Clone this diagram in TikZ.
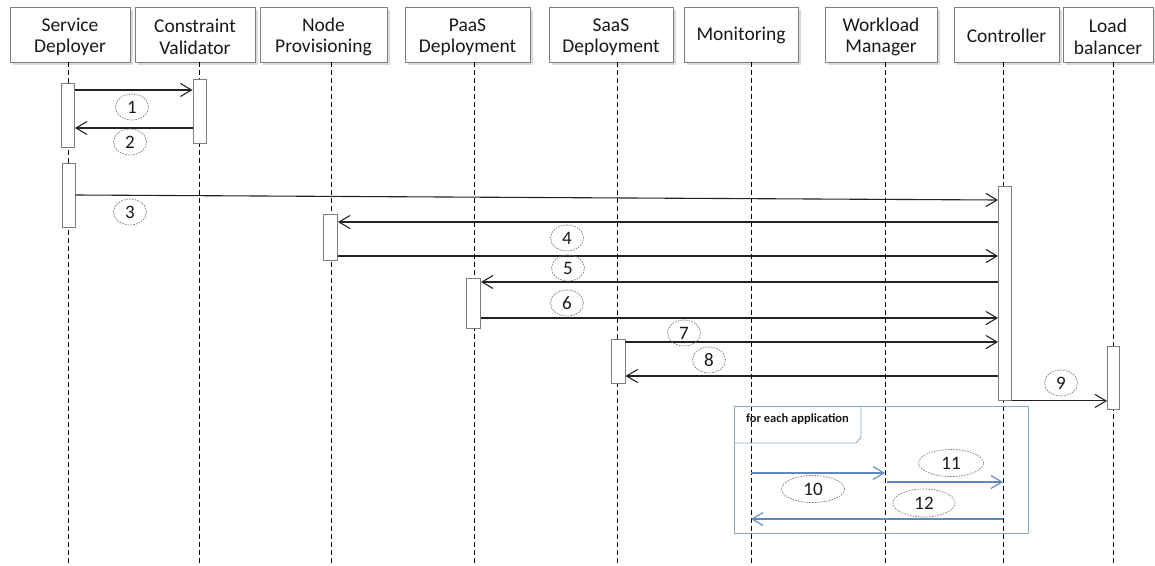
\documentclass[tikz,border=0pt]{standalone}
\usepackage{fontspec}
\setmainfont{Carlito}
\usetikzlibrary{arrows.meta,shapes.geometric,shadows}
\definecolor{boxline}{RGB}{125,125,125}
\definecolor{flow}{RGB}{35,35,35}
\definecolor{txt}{RGB}{25,25,25}
\definecolor{loopblue}{RGB}{95,135,192}
\definecolor{framecol}{RGB}{140,165,200}
\begin{document}
\begin{tikzpicture}[x=1pt,y=-1pt,
  hdr/.style={draw=boxline, line width=0.9pt, fill=white, minimum height=55pt,
    inner sep=0pt, drop shadow={shadow xshift=2.5pt,shadow yshift=-2.5pt,fill=black!28}},
  htxt/.style={text=txt, inner sep=0pt, align=center, font=\fontsize{19.5}{21.5}\selectfont},
  life/.style={draw=black, line width=1pt, dash pattern=on 5pt off 3pt},
  bar/.style={draw=boxline, fill=white, line width=0.9pt, minimum width=13pt, inner sep=0pt, anchor=north},
  msg/.style={draw=flow, line width=1.1pt, -{Straight Barb[length=11pt,width=13pt]}},
  bmsg/.style={draw=loopblue, line width=1.1pt, -{Straight Barb[length=11pt,width=13pt]}},
  num/.style={ellipse, draw=gray!90!black, dash pattern=on 1.6pt off 1.2pt, line width=0.65pt, text=txt,
    minimum width=33pt, minimum height=26pt, inner sep=0pt, font=\fontsize{19}{19}\selectfont},
  wnum/.style={num, minimum width=63pt, minimum height=27pt}
]
\useasboundingbox (0,0) rectangle (1155,565);

% headers
\node[hdr, minimum width=120pt] (h1) at (70,34.5) {};
\node[hdr, minimum width=120pt] (h2) at (195,34.5) {};
\node[hdr, minimum width=127pt] (h3) at (323.5,34.5) {};
\node[hdr, minimum width=125pt] (h4) at (467.5,34.5) {};
\node[hdr, minimum width=124pt] (h5) at (611,34.5) {};
\node[hdr, minimum width=114pt] (h6) at (741,34.5) {};
\node[hdr, minimum width=112pt] (h7) at (881,34.5) {};
\node[hdr, minimum width=105pt] (h8) at (1006.5,34.5) {};
\node[hdr, minimum width=90pt] (h9) at (1108,34.5) {};
\node[htxt] (t1) at ([yshift=-2.5pt]h1.center) {Service\\Deployer};
\node[htxt] (t2) at ([yshift=-2.5pt]h2.center) {Constraint\\Validator};
\node[htxt] (t3) at ([yshift=-2.5pt]h3.center) {Node\\Provisioning};
\node[htxt] (t4) at ([yshift=-2.5pt]h4.center) {PaaS\\Deployment};
\node[htxt] (t5) at ([yshift=-2.5pt]h5.center) {SaaS\\Deployment};
\node[htxt] (t6) at ([yshift=-1pt]h6.center) {Monitoring};
\node[htxt] (t7) at ([yshift=-2.5pt]h7.center) {Workload\\Manager};
\node[htxt] (t8) at ([yshift=-1pt]h8.center) {Controller};
\node[htxt] (t9) at ([yshift=-2.5pt]h9.center) {Load\\balancer};

% lifeline ends
\coordinate (l1) at (68,565);
\coordinate (l2) at (199,565);
\coordinate (l3) at (331,565);
\coordinate (l4) at (474,565);
\coordinate (l5) at (617,565);
\coordinate (l6) at (751,565);
\coordinate (l7) at (885,565);
\coordinate (l8) at (1003,565);
\coordinate (l9) at (1113,565);
\foreach \i in {1,...,9} \draw[life] (h\i.south -| l\i) -- (l\i);

% loop frame
\draw[framecol, line width=0.9pt] (734,406) rectangle (1028,533);
\draw[framecol, line width=0.9pt] (734,443) -- (856,443) -- (861,437) -- (861,406);
\node[anchor=west, inner sep=0pt, text=txt, font=\bfseries\fontsize{12.5}{13}\selectfont] (ftitle) at (746,419) {for each application};

% activation bars
\node[bar, minimum height=64pt] (sdA) at (68,83) {};
\node[bar, minimum height=64pt] (cv) at (199.5,79) {};
\node[bar, minimum height=64pt] (sdB) at (68.5,163) {};
\node[bar, minimum height=214pt] (ctl) at (1005,186) {};
\node[bar, minimum height=46pt, minimum width=14pt] (np) at (330.5,214) {};
\node[bar, minimum height=50pt, minimum width=14pt] (paas) at (473.5,278) {};
\node[bar, minimum height=44pt, minimum width=14pt] (saas) at (618,339) {};
\node[bar, minimum height=63pt, minimum width=12pt] (lb) at (1113.5,346) {};

% messages
\draw[msg] (sdA.east |- 0,90) -- (cv.west |- 0,90);
\draw[msg] (cv.west |- 0,128) -- (sdA.east |- 0,128);
\draw[msg] (sdB.east |- 0,195) -- (ctl.west |- 0,200);
\draw[msg] (ctl.west |- 0,222) -- (np.east |- 0,222);
\draw[msg] (np.east |- 0,256) -- (ctl.west |- 0,256);
\draw[msg] (ctl.west |- 0,282) -- (paas.east |- 0,282);
\draw[msg] (paas.east |- 0,318) -- (ctl.west |- 0,318);
\draw[msg] (saas.east |- 0,342) -- (ctl.west |- 0,342);
\draw[msg] (ctl.west |- 0,376) -- (saas.east |- 0,376);
\draw[msg] (ctl.south east) -- (lb.west |- ctl.south);

% loop messages
\draw[bmsg] (l6 |- 0,473) -- (l7 |- 0,473);
\draw[bmsg] ([xshift=2pt]l7 |- 0,482) -- (l8 |- 0,482);
\draw[bmsg] (l8 |- 0,519) -- (l6 |- 0,519);

% labels
\node[num] (n1) at (132,107) {1};
\node[num] (n2) at (130,142) {2};
\node[num] (n3) at (130,212) {3};
\node[num] (n4) at (567,238) {4};
\node[num] (n5) at (568,268) {5};
\node[num] (n6) at (567,303) {6};
\node[num] (n7) at (684,333) {7};
\node[num] (n8) at (709,360) {8};
\node[num] (n9) at (1061,383) {9};
\node[wnum] (n10) at (813,489) {10};
\node[wnum, minimum width=65pt] (n11) at (951,463) {11};
\node[wnum, minimum width=62pt, minimum height=28pt] (n12) at (924,503) {12};
\end{tikzpicture}
\end{document}
